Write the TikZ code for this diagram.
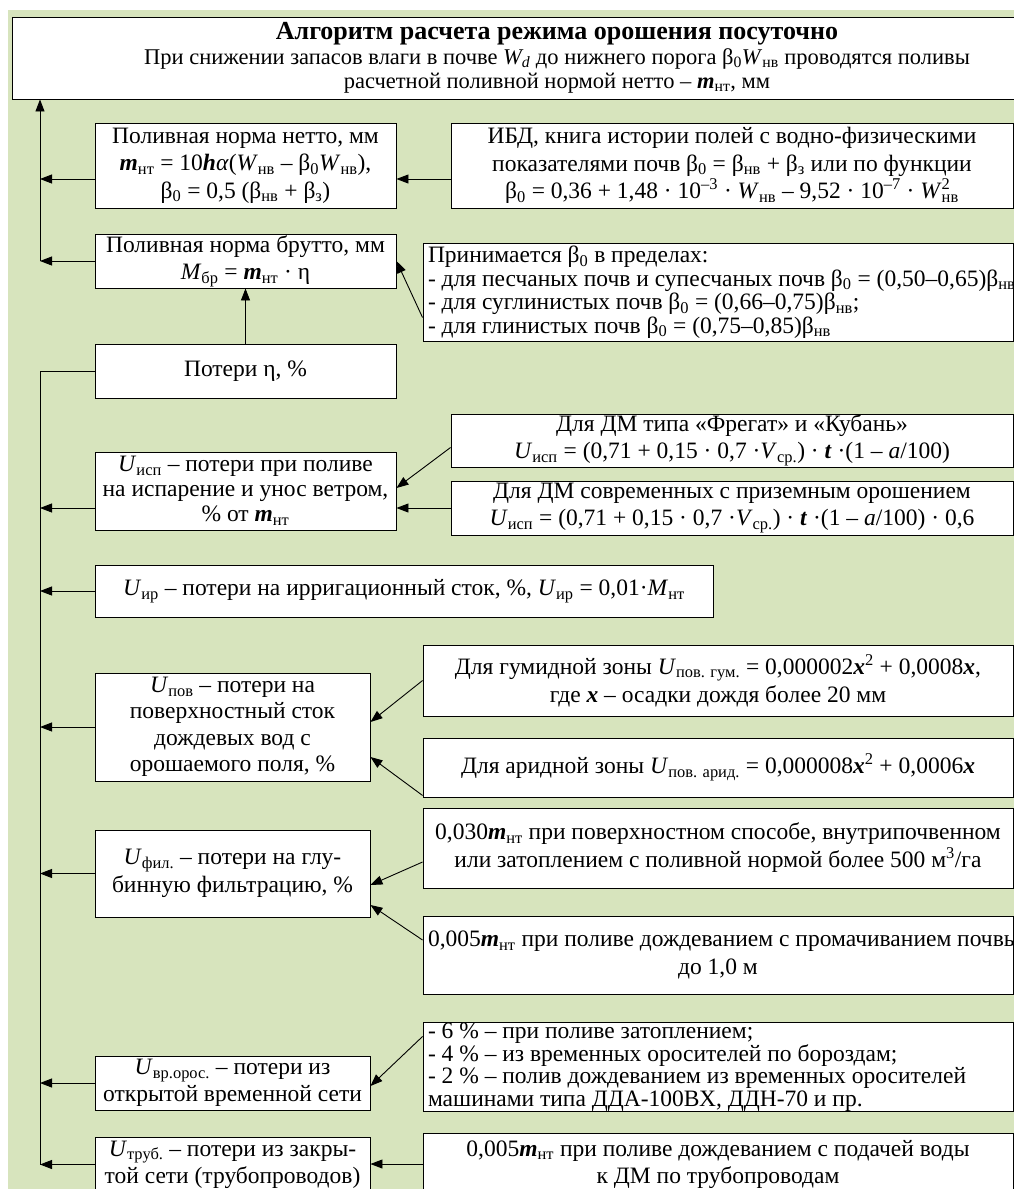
\documentclass[tikz,border=0pt]{standalone}
\usepackage{fontspec}
\setmainfont{Liberation Serif}
\usetikzlibrary{arrows.meta,calc}
\newcommand\sbs[1]{\textsubscript{#1}}
\newcommand\sps[1]{\textsuperscript{#1}}
\newcommand\mvar{\textbf{\textit{m}}}
\newcommand\xvar{\textbf{\textit{x}}}
\newcommand\natsp{\spaceskip=0pt\xspaceskip=0pt\relax}
\definecolor{bggreen}{HTML}{D7E4BD}
\begin{document}
\begin{tikzpicture}[x=1pt,y=-1pt,
  box/.style={draw=black, line width=0.9pt, fill=white, rectangle, inner sep=0pt, align=center, font=\fontsize{23.5}{27}\selectfont},
  bls/.style={font=\fontsize{23.5}{#1}\selectfont},
  arr/.style={line width=0.9pt, -{Triangle[length=12pt,width=9pt]}},
  ln/.style={line width=0.9pt}]
\useasboundingbox (0,0) rectangle (1014,1189);
\clip (0,0) rectangle (1014,1189);
\fill[white] (0,0) rectangle (1014,1189);
\fill[bggreen] (8,10) rectangle (1014,1189);
\coordinate (tx) at (40,0);
% nodes
\node[box, minimum width=1090, minimum height=82, font=\fontsize{22.5}{24.5}\selectfont] (title) at (557,58) {{\fontsize{26}{24.5}\selectfont\textbf{Алгоритм расчета режима орошения посуточно}}\\
При снижении запасов влаги в почве \textit{W\sbs{d}} до нижнего порога β\sbs{0}\textit{W}\sbs{нв} проводятся поливы\\
расчетной поливной нормой нетто – \mvar\sbs{нт}, мм};
\node[box, minimum width=301, minimum height=85, bls=27.5] (netto) at (245.5,165.5) {Поливная норма нетто, мм\\
\mvar\sbs{нт} = 10\textbf{\textit{h}}\textit{α}(\textit{W}\sbs{нв} – β\sbs{0}\textit{W}\sbs{нв}),\\
β\sbs{0} = 0,5 (β\sbs{нв} + β\sbs{з})};
\node[box, minimum width=562, minimum height=85, bls=27.5] (ibd) at (732,165.5) {ИБД, книга истории полей с водно-физическими\\
показателями почв β\sbs{0} = β\sbs{нв} + β\sbs{з} или по функции\\
β\sbs{0} = 0,36 + 1,48 · 10\sps{–3} · \textit{W}\sbs{нв} – 9,52 · 10\sps{–7} · \textit{W}\rlap{\sps{2}}\sbs{нв}};
\node[box, minimum width=301, minimum height=54] (brutto) at (245.5,261) {Поливная норма брутто, мм\\
\textit{M}\sbs{бр} = \mvar\sbs{нт} · η};
\node[box, minimum width=590, minimum height=98, text width=580, align=left, bls=23.5] (prin) at (718,292) {\natsp\mbox{Принимается β\sbs{0} в пределах:}\\
\mbox{- для песчаных почв и супесчаных почв β\sbs{0} = (0,50–0,65)β\sbs{нв};}\\
\mbox{- для суглинистых почв β\sbs{0} = (0,66–0,75)β\sbs{нв};}\\
\mbox{- для глинистых почв β\sbs{0} = (0,75–0,85)β\sbs{нв}}};
\node[box, minimum width=301, minimum height=54] (eta) at (245.5,371) {Потери η, \%};
\node[box, minimum width=562, minimum height=53] (fregat) at (732,440.5) {Для ДМ типа «Фрегат» и «Кубань»\\
\textit{U}\sbs{исп} = (0,71 + 0,15 · 0,7 ·\textit{V}\sbs{ср.}) · \textbf{\textit{t}} ·(1 – \textit{a}/100)};
\node[box, minimum width=301, minimum height=78, bls=25] (uisp) at (245.5,491) {\textit{U}\sbs{исп} – потери при поливе\\
на испарение и унос ветром,\\
\% от \mvar\sbs{нт}};
\node[box, minimum width=562, minimum height=54] (modern) at (732,508) {Для ДМ современных с приземным орошением\\
\textit{U}\sbs{исп} = (0,71 + 0,15 · 0,7 ·\textit{V}\sbs{ср.}) · \textbf{\textit{t}} ·(1 – \textit{a}/100) · 0,6};
\node[box, minimum width=618, minimum height=52] (uir) at (404,591) {\textit{U}\sbs{ир} – потери на ирригационный сток, \%, \textit{U}\sbs{ир} = 0,01·\textit{M}\sbs{нт}};
\node[box, minimum width=590, minimum height=71, bls=28] (gumid) at (718,680.5) {Для гумидной зоны \textit{U}\sbs{пов. гум.} = 0,000002\xvar\sps{2} + 0,0008\xvar,\\
где \xvar{} – осадки дождя более 20 мм};
\node[box, minimum width=275, minimum height=108, bls=26.5] (upov) at (232.5,727) {\textit{U}\sbs{пов} – потери на\\
поверхностный сток\\
дождевых вод с\\
орошаемого поля, \%};
\node[box, minimum width=590, minimum height=59] (arid) at (718,767.5) {Для аридной зоны \textit{U}\sbs{пов. арид.} = 0,000008\xvar\sps{2} + 0,0006\xvar};
\node[box, minimum width=590, minimum height=80, bls=28] (k030) at (718,848) {0,030\mvar\sbs{нт} при поверхностном способе, внутрипочвенном\\
или затоплением с поливной нормой более 500 м\sps{3}/га};
\node[box, minimum width=275, minimum height=87, bls=28] (ufil) at (232.5,873.5) {\textit{U}\sbs{фил.} – потери на глу-\\
бинную фильтрацию, \%};
\node[box, minimum width=590, minimum height=78, text width=580, bls=28] (k005) at (718,955) {\natsp\mbox{0,005\mvar\sbs{нт} при поливе дождеванием с промачиванием почвы}\\
\mbox{до 1,0 м}};
\node[box, minimum width=590, minimum height=86, text width=580, align=left, bls=22.5] (list) at (718,1067) {\natsp\mbox{- 6 \% – при поливе затоплением;}\\
\mbox{- 4 \% – из временных оросителей по бороздам;}\\
\mbox{- 2 \% – полив дождеванием из временных оросителей}\\
\mbox{машинами типа ДДА-100ВХ, ДДН-70 и пр.}};
\node[box, minimum width=275, minimum height=54] (uvr) at (232.5,1083) {\textit{U}\sbs{вр.орос.} – потери из\\
открытой временной сети};
\node[box, minimum width=275, minimum height=55] (utrub) at (232.5,1164.5) {\textit{U}\sbs{труб.} – потери из закры-\\
той сети (трубопроводов)};
\node[box, minimum width=590, minimum height=62, bls=27] (last) at (718,1164) {0,005\mvar\sbs{нт} при поливе дождеванием с подачей воды\\
к ДМ по трубопроводам};
% connectors
\path ($(netto.west)+(0,13.5)$) coordinate (pn);
\draw[arr] (pn) -- (pn -| tx);
\draw[arr] ($(ibd.west)+(0,13.5)$) -- ($(netto.east)+(0,13.5)$);
\draw[arr] (brutto.west) -- (brutto.west -| tx);
\draw[arr] (brutto.west -| tx) -- (title.south -| tx);
\draw[arr] (eta.north) -- (brutto.south);
\draw[arr] ($(prin.north west)+(0,75)$) -- (brutto.east);
\draw[ln] (eta.west) -- (eta.west -| tx) -- (utrub.west -| tx);
\path ($(uisp.west)+(0,17)$) coordinate (pu);
\draw[arr] (pu) -- (pu -| tx);
\draw[arr] (modern.west) -- (modern.west -| uisp.east);
\draw[arr] ($(fregat.west)+(0,7)$) -- ($(uisp.east)+(0,-3)$);
\draw[arr] (uir.west) -- (uir.west -| tx);
\draw[arr] (gumid.west) -- ($(upov.east)+(0,-5)$);
\draw[arr] ($(arid.south west)+(0,-2)$) -- ($(upov.east)+(0,30)$);
\draw[arr] (upov.west) -- (upov.west -| tx);
\draw[arr] ($(k030.west)+(0,14)$) -- ($(ufil.east)+(0,11.5)$);
\draw[arr] ($(k005.west)+(0,-15)$) -- ($(ufil.east)+(0,31.5)$);
\draw[arr] (ufil.west) -- (ufil.west -| tx);
\draw[arr] ($(list.north west)+(0,14)$) -- ($(uvr.east)+(0,3)$);
\draw[arr] (uvr.west) -- (uvr.west -| tx);
\draw[arr] (last.west) -- (last.west -| utrub.east);
\draw[arr] (utrub.west) -- (utrub.west -| tx);
\end{tikzpicture}
\end{document}
